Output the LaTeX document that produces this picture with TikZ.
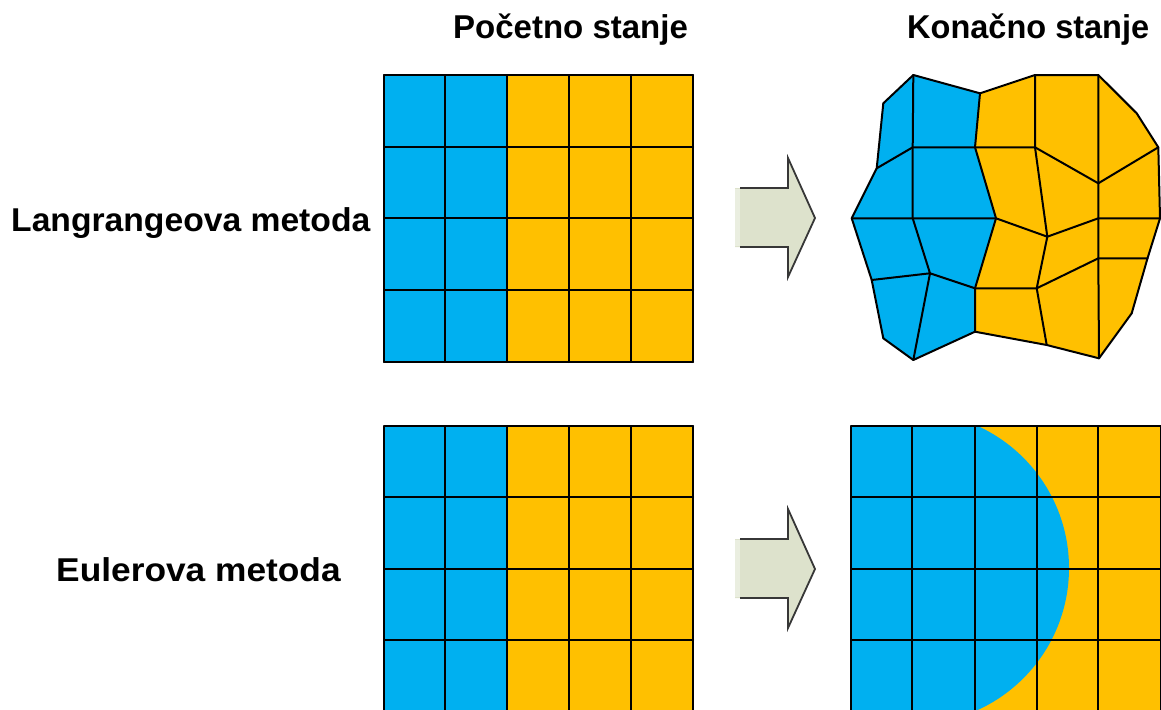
\documentclass[tikz,border=0pt]{standalone}
\usepackage{fontspec}
\usepackage{graphicx}
\setmainfont{Liberation Sans}
\definecolor{cblue}{RGB}{0,176,240}
\definecolor{corange}{RGB}{255,192,0}
\definecolor{arrowfill}{RGB}{221,226,204}
\definecolor{arrowlight}{RGB}{234,238,224}
\definecolor{arrowedge}{RGB}{55,55,55}
\begin{document}
\begin{tikzpicture}[x=1pt,y=-1pt,
  meshline/.style={line width=2pt, black, line join=round, line cap=round},
  lbl/.style={font=\bfseries\fontsize{33}{40}\selectfont, anchor=base west, inner sep=0pt},
  arrowbody/.style={fill=arrowfill},
  arrowrim/.style={draw=arrowedge, line width=1.8pt, line join=miter}]
\useasboundingbox (0,0) rectangle (1161,709);

% ---------- labels ----------
\node[lbl] (tpoc) at (453,39) {Početno stanje};
\node[lbl] (tkon) at (907,39) {\scalebox{0.985}[1]{Konačno stanje}};
\node[lbl] (tlag) at (11,231) {\scalebox{1.02}[1]{Langrangeova metoda}};
\node[lbl] (teul) at (56,581) {\scalebox{1.07}[1]{Eulerova metoda}};

% ---------- top-left grid (initial, Lagrange) ----------
\fill[cblue] (384,75) rectangle (507,362);
\fill[corange] (507,75) rectangle (693,362);
\foreach \x in {384,445,507,569,631,693} \draw[meshline] (\x,75) -- (\x,362);
\foreach \y in {75,147,218,290,362} \draw[meshline] (384,\y) -- (693,\y);

% ---------- bottom-left grid (initial, Euler) ----------
\fill[cblue] (384,426) rectangle (507,714);
\fill[corange] (507,426) rectangle (693,714);
\foreach \x in {384,445,507,569,631,693} \draw[meshline] (\x,426) -- (\x,714);
\foreach \y in {426,497,569,640,712} \draw[meshline] (384,\y) -- (693,\y);

% ---------- bottom-right grid (final, Euler) ----------
\begin{scope}
  \clip (851,426) rectangle (1166,714);
  \fill[corange] (851,426) rectangle (1166,714);
  \fill[cblue] (851,426) rectangle (913,714);
  \fill[cblue] (913,568) circle[radius=156];
\end{scope}
\foreach \x in {851,912,975,1037,1098,1161} \draw[meshline] (\x,426) -- (\x,714);
\foreach \y in {426,497,569,640,712} \draw[meshline] (851,\y) -- (1163,\y);

% ---------- deformed mesh (final, Lagrange) ----------
\coordinate (n00) at (883.3,103.3);
\coordinate (n01) at (913.3,75);
\coordinate (n02) at (980,93.3);
\coordinate (n03) at (1035,75);
\coordinate (n04) at (1098.3,75);
\coordinate (n05) at (1136.7,113.3);
\coordinate (n10) at (876.7,168.3);
\coordinate (n11) at (912.7,147.3);
\coordinate (n12) at (975,147.3);
\coordinate (n13) at (1035,147.3);
\coordinate (n14) at (1098.3,183.3);
\coordinate (n15) at (1158.3,147.3);
\coordinate (n20) at (851.7,218.3);
\coordinate (n21) at (912.7,218.3);
\coordinate (n22) at (996,218.3);
\coordinate (n23) at (1047.3,236.7);
\coordinate (n24) at (1098.3,218.3);
\coordinate (n25) at (1160,218.3);
\coordinate (n30) at (871.7,280);
\coordinate (n31) at (930,273.3);
\coordinate (n32) at (975,288.3);
\coordinate (n33) at (1036.7,288.3);
\coordinate (n34) at (1098.3,258.3);
\coordinate (n35) at (1147.5,258.3);
\coordinate (n40) at (883.3,338.3);
\coordinate (n41) at (913.3,360);
\coordinate (n42) at (975,331.7);
\coordinate (n43) at (1046.7,345);
\coordinate (n44) at (1099,358.3);
\coordinate (n45) at (1131.7,313.3);

\fill[cblue] (n00) -- (n01) -- (n02) -- (n12) -- (n22) -- (n32) -- (n42) -- (n41) -- (n40) -- (n30) -- (n20) -- (n10) -- cycle;
\fill[corange] (n02) -- (n03) -- (n04) -- (n05) -- (n15) -- (n25) -- (n35) -- (n45) -- (n44) -- (n43) -- (n42) -- (n32) -- (n22) -- (n12) -- cycle;

\draw[meshline] (n00) -- (n01) -- (n02) -- (n03) -- (n04) -- (n05);
\draw[meshline] (n10) -- (n11) -- (n12) -- (n13) -- (n14) -- (n15);
\draw[meshline] (n20) -- (n21) -- (n22) -- (n23) -- (n24) -- (n25);
\draw[meshline] (n30) -- (n31) -- (n32) -- (n33) -- (n34) -- (n35);
\draw[meshline] (n40) -- (n41) -- (n42) -- (n43) -- (n44) -- (n45);
\draw[meshline] (n00) -- (n10) -- (n20) -- (n30) -- (n40);
\draw[meshline] (n01) -- (n11) -- (n21) -- (n31) -- (n41);
\draw[meshline] (n02) -- (n12) -- (n22) -- (n32) -- (n42);
\draw[meshline] (n03) -- (n13) -- (n23) -- (n33) -- (n43);
\draw[meshline] (n04) -- (n14) -- (n24) -- (n34) -- (n44);
\draw[meshline] (n05) -- (n15) -- (n25) -- (n35) -- (n45);

% ---------- block arrows ----------
\foreach \dy in {0,351} {
  \begin{scope}[yshift=-\dy pt]
    \path[arrowbody] (735,188) -- (788,188) -- (788,158) -- (815,218) -- (788,277) -- (788,247) -- (735,247) -- cycle;
    \fill[arrowlight] (735,189) rectangle (740,246);
    \draw[arrowrim] (740,188) -- (788,188) -- (788,158) -- (815,218) -- (788,277) -- (788,247) -- (740,247);
  \end{scope}
}
\end{tikzpicture}
\end{document}
